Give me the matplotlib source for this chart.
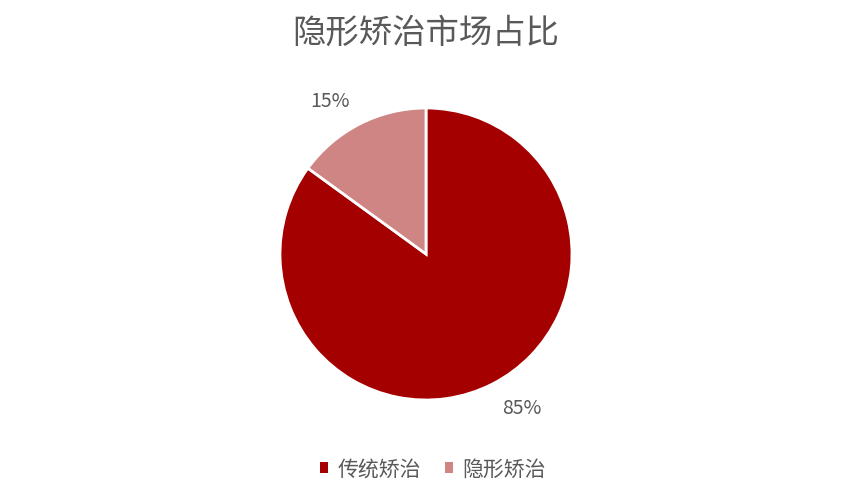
import numpy as np
import matplotlib.pyplot as plt
from matplotlib.patches import Patch

plt.rcParams['font.family'] = ['Noto Sans CJK SC', 'DejaVu Sans']

title = "隐形矫治市场占比"
categories = ["传统矫治", "隐形矫治"]
shares = [85, 15]
colors = ["#A50000", "#D08585"]
text_color = "#595959"

fig = plt.figure(figsize=(8.41, 5.02), dpi=100)
W, H = 841, 502
cx, cy, r = 426, 255, 146
ax = fig.add_axes([(cx - r) / W, (H - cy - r) / H, 2 * r / W, 2 * r / H])

wedges, texts, autotexts = ax.pie(
    shares, colors=colors, startangle=90, counterclock=False,
    autopct=lambda p: f"{p:.0f}%", pctdistance=1.24,
    wedgeprops=dict(edgecolor="white", linewidth=2),
    textprops=dict(color=text_color, fontsize=14),
)
# nudge labels a little counter-clockwise, like the original layout
for w, t in zip(wedges, autotexts):
    mid = np.deg2rad((w.theta1 + w.theta2) / 2 + 5)
    t.set_position((1.24 * np.cos(mid), 1.24 * np.sin(mid)))

ax.set_xlim(-1, 1)
ax.set_ylim(-1, 1)
ax.set_aspect("equal")
ax.axis("off")

fig.text(cx / W, 1 - 33 / H, title, ha="center", va="center",
         fontsize=24, color=text_color)

handles = [Patch(facecolor=c, edgecolor="none") for c in colors]
fig.legend(handles, categories, loc="center", bbox_to_anchor=(433 / W, 1 - 470 / H),
           ncol=2, frameon=False, fontsize=15, labelcolor=text_color,
           handlelength=0.4, handleheight=0.4, handletextpad=0.45, columnspacing=1.15)

fig.savefig("out.png", dpi=100)
